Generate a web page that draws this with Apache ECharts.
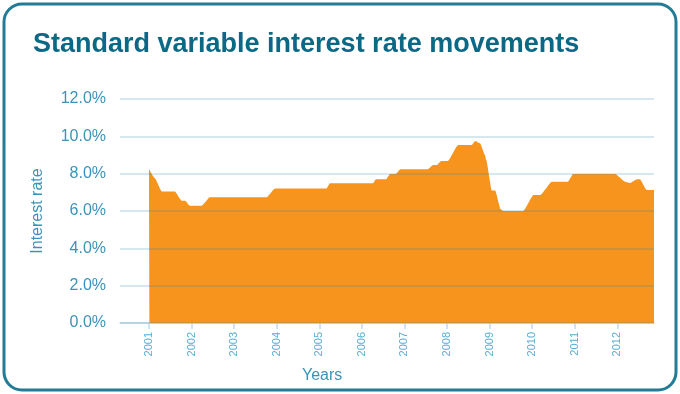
<!DOCTYPE html>
<html>
<head>
<meta charset="utf-8">
<script src="https://cdn.jsdelivr.net/npm/echarts@6/dist/echarts.min.js"></script>
<style>html,body{margin:0;padding:0;background:#fff}#c{width:680px;height:394px}</style>
</head>
<body>
<div id="c"></div>
<script>
var years = [2001.0, 2001.01, 2001.14, 2001.30, 2001.61, 2001.77, 2001.85, 2001.96, 2002.24, 2002.43, 2003.76, 2003.96,
  2005.17, 2005.25, 2006.26, 2006.33, 2006.57, 2006.66, 2006.80, 2006.90, 2007.55, 2007.67, 2007.76, 2007.86,
  2008.02, 2008.26, 2008.58, 2008.66, 2008.78, 2008.89, 2008.92, 2009.05, 2009.13, 2009.26, 2009.32, 2009.79,
  2010.03, 2010.19, 2010.46, 2010.84, 2010.96, 2011.95, 2012.18, 2012.30, 2012.46, 2012.53, 2012.69, 2012.86];
var rates = [8.25, 8.25, 7.75, 7.05, 7.05, 6.55, 6.55, 6.28, 6.28, 6.73, 6.73, 7.2,
  7.2, 7.48, 7.48, 7.7, 7.7, 7.98, 7.98, 8.23, 8.23, 8.46, 8.46, 8.68,
  8.68, 9.53, 9.53, 9.75, 9.62, 9.0, 8.73, 7.1, 7.1, 6.09, 6.0, 6.0,
  6.86, 6.86, 7.57, 7.57, 7.98, 7.98, 7.57, 7.5, 7.7, 7.7, 7.12, 7.12];
var yearTicks = [2001, 2002, 2003, 2004, 2005, 2006, 2007, 2008, 2009, 2010, 2011, 2012];
var rateTicks = [0, 2, 4, 6, 8, 10, 12];

var pts = years.map(function (y, i) { return [y, rates[i]]; });
var chart = echarts.init(document.getElementById('c'), null, { renderer: 'canvas' });
chart.setOption({
  animation: false,
  backgroundColor: '#ffffff',
  title: {
    text: 'Standard variable interest rate movements',
    left: 28, top: 26,
    textStyle: { fontFamily: '"Liberation Sans", Arial, sans-serif', fontWeight: 'bold', fontSize: 27, color: '#0b6986' }
  },
  graphic: [
    { type: 'rect', shape: { x: 4, y: 4, width: 672, height: 386, r: 18 }, style: { fill: null, stroke: '#237c95', lineWidth: 3 }, z: 10 },
    { type: 'text', left: 302, top: 368, style: { text: 'Years', fontFamily: 'Liberation Sans, Arial, sans-serif', fontSize: 16, fill: '#3a93b8' } },
    { type: 'text', x: 30, y: 211, rotation: Math.PI / 2, style: { text: 'Interest rate', fontFamily: 'Liberation Sans, Arial, sans-serif', fontSize: 16, fill: '#3a93b8', align: 'center', verticalAlign: 'top' } }
  ],
  grid: { left: 120, right: 26, top: 99, bottom: 71 },
  xAxis: {
    type: 'value', min: 2000.32, max: 2012.86,
    splitLine: { show: false },
    axisLine: { show: true, lineStyle: { color: '#c9e1ec', width: 1.5 } },
    axisTick: { show: true, customValues: yearTicks, length: 6, lineStyle: { color: '#c0dce9', width: 1.5 } },
    axisLabel: { show: true, customValues: yearTicks, rotate: 90, margin: 9, fontSize: 11, color: '#5aaed2',
      fontFamily: 'Liberation Sans, Arial, sans-serif',
      formatter: function (v) { return String(Math.round(v)); } }
  },
  yAxis: {
    type: 'value', min: 0, max: 12, interval: 2, z: 3,
    axisLine: { show: false }, axisTick: { show: false },
    splitLine: { show: true, lineStyle: { color: 'rgba(40,130,170,0.25)', width: 1.5 } },
    axisLabel: { margin: 14, fontSize: 16, color: '#3a93b8', fontFamily: 'Liberation Sans, Arial, sans-serif',
      formatter: function (v) { return v.toFixed(1) + '%'; } }
  },
  series: [{
    type: 'line', data: pts, showSymbol: false, smooth: 0.15, smoothMonotone: 'x', z: 2,
    lineStyle: { width: 0, color: '#f7941e' },
    areaStyle: { color: '#f7941e', opacity: 1 }
  }]
});
</script>
</body>
</html>
